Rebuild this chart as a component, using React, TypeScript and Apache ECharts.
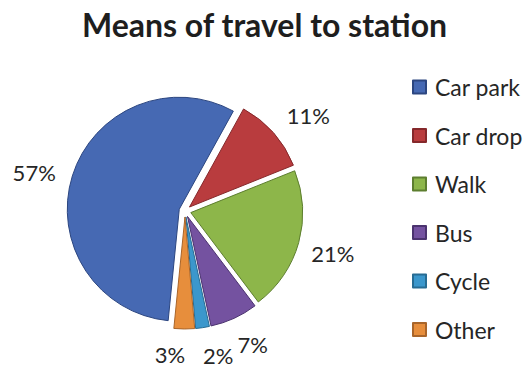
import React, { useEffect, useRef } from "react";
import * as echarts from "echarts";

const categories = ["Car park", "Car drop", "Walk", "Bus", "Cycle", "Other"];
const shares = [57, 11, 21, 7, 2, 3];
const fillColors = ["#4669B3", "#B93C3E", "#8DB64A", "#7452A0", "#3B97CC", "#E78E3C"];
const edgeColors = ["#2C4680", "#85282B", "#5D7E2F", "#4B336F", "#276C93", "#A9652A"];
// small nudges of the percentage labels from ECharts' outside placement
const labelNudgeX = [0, -1, 0, -24, -8, 8];
const labelNudgeY = [0, -11, 8, 17, 4, 16];

export default function App() {
  const ref = useRef<HTMLDivElement>(null);
  useEffect(() => {
    if (!ref.current) return;
    const chart = echarts.init(ref.current, null, { renderer: "svg" });
    const data = categories.map((name, i) => {
      const st = { color: fillColors[i], borderColor: edgeColors[i], borderWidth: 1 };
      return {
        name,
        value: shares[i],
        selected: true,
        itemStyle: st,
        select: { itemStyle: st, label: { show: true } },
      };
    });
    chart.setOption({
      animation: false,
      backgroundColor: "#ffffff",
      title: {
        text: "Means of travel to station",
        left: "center",
        top: 3,
        textStyle: {
          fontFamily: "Lato",
          fontWeight: "bold",
          fontSize: 32,
          color: "#1e1e1e",
        },
      },
      legend: {
        orient: "vertical",
        left: 407,
        top: 70,
        icon: "rect",
        itemWidth: 13,
        itemHeight: 13,
        itemGap: 24.5,
        selectedMode: false,
        textStyle: {
          fontFamily: "Lato",
          fontSize: 23,
          lineHeight: 24,
          color: "#262626",
          padding: [0, 0, 0, 4],
        },
        data: categories,
      },
      series: [
        {
          type: "pie",
          center: [185, 211],
          radius: 112,
          startAngle: 264.3,
          clockwise: true,
          selectedMode: "multiple",
          selectedOffset: 6,
          avoidLabelOverlap: true,
          emphasis: { disabled: true },
          label: {
            show: true,
            position: "outside",
            formatter: "{c}%",
            fontFamily: "Lato",
            fontSize: 22,
            color: "#262626",
          },
          labelLine: { show: false, length: 10, length2: 2 },
          labelLayout: (p: any) => ({
            dx: labelNudgeX[p.dataIndex],
            dy: labelNudgeY[p.dataIndex],
          }),
          data,
        },
      ],
    });
    return () => chart.dispose();
  }, []);
  return (
    <div
      ref={ref}
      style={{ position: "fixed", left: 0, top: 0, width: 529, height: 369 }}
    />
  );
}
